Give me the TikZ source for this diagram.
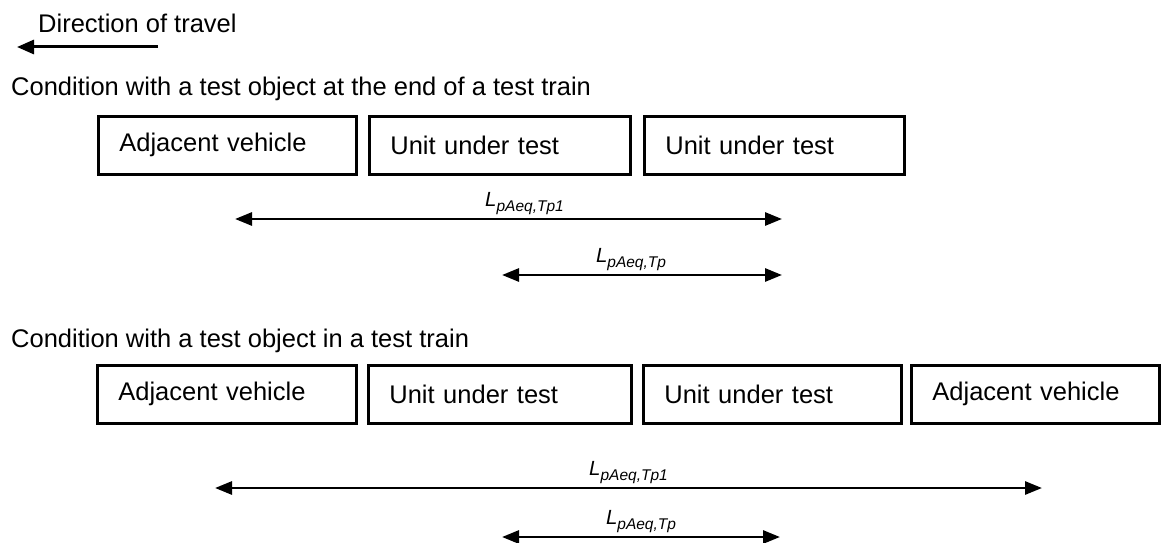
\documentclass[tikz,border=0pt]{standalone}
\usepackage{fontspec}
\setmainfont{Liberation Sans}
\usetikzlibrary{arrows.meta}
\newcommand{\Lsub}[1]{\textit{L}\raisebox{-5pt}{\fontsize{15.5}{18}\selectfont\textit{#1}}}

\begin{document}
\begin{tikzpicture}[x=1pt, y=-1pt,
    txt/.style={anchor=base west, inner sep=0pt, font=\fontsize{25.5}{30}\selectfont},
    car/.style={draw, line width=2.8pt, anchor=north west, minimum height=58pt, inner xsep=21pt, text width=#1, align=left, font=\fontsize{25.5}{30}\selectfont},
    dim/.style={line width=2.8pt, {Triangle[length=17pt,width=13pt]}-{Triangle[length=17pt,width=13pt]}},
    lbl/.style={above=2pt, inner sep=1pt, font=\fontsize{20.5}{24}\selectfont}]
    \useasboundingbox (0,0) rectangle (1161,543);

    % Direction of travel
    \node[txt] (dirtext) at (38,33) {Direction of travel};
    \coordinate (dirfrom) at (158,47);
    \coordinate (dirto) at (17,47);
    \draw[line width=3pt, -{Triangle[length=17pt,width=14pt]}] (dirfrom) -- (dirto);

    % Test object at the end of a test train
    \node[txt] (endtext) at (11,95) {Condition with a test object at the end of a test train};
    \node[car=216pt] (r1adj) at (97,115) {Adjacent vehicle};
    \node[car=219pt] (r1uut1) at (368,115) {Unit under test};
    \node[car=218pt] (r1uut2) at (643,115) {Unit under test};

    \coordinate (r1aL) at (235,219);
    \coordinate (r1aR) at (782,219);
    \draw[dim] (r1aL) -- (r1aR) node[lbl, midway, xshift=16pt] (r1lab1) {\Lsub{pAeq,Tp1}};
    \coordinate (r1bL) at (502,275);
    \coordinate (r1bR) at (782,275);
    \draw[dim] (r1bL) -- (r1bR) node[lbl, midway, xshift=-11pt] (r1lab2) {\Lsub{pAeq,Tp}};

    % Test object in a test train
    \node[txt] (intext) at (11,347) {Condition with a test object in a test train};
    \node[car=217pt] (r2adj1) at (96,364) {Adjacent vehicle};
    \node[car=221pt] (r2uut1) at (367,364) {Unit under test};
    \node[car=216pt] (r2uut2) at (642,364) {Unit under test};
    \node[car=206pt] (r2adj2) at (910,364) {Adjacent vehicle};

    \coordinate (r2aL) at (215,488);
    \coordinate (r2aR) at (1042,488);
    \draw[dim] (r2aL) -- (r2aR) node[lbl, midway] (r2lab1) {\Lsub{pAeq,Tp1}};
    \coordinate (r2bL) at (502,537);
    \coordinate (r2bR) at (780,537);
    \draw[dim] (r2bL) -- (r2bR) node[lbl, midway] (r2lab2) {\Lsub{pAeq,Tp}};
\end{tikzpicture}
\end{document}
